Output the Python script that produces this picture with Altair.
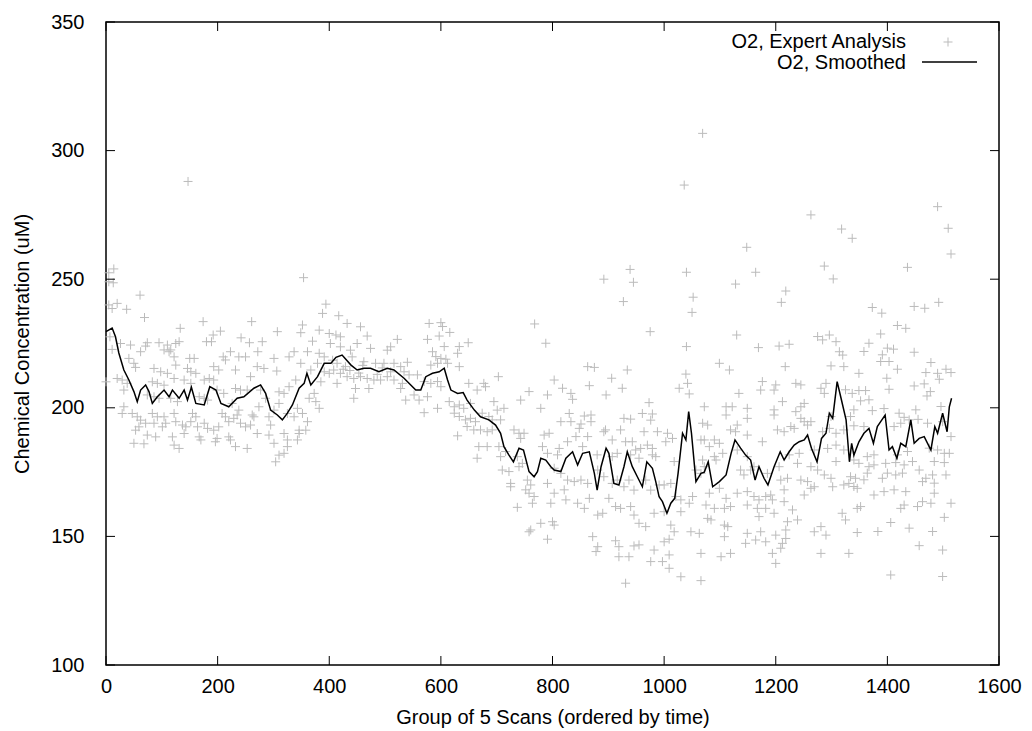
import altair as alt
import pandas as pd

FONT = "Liberation Sans"
GRAY = "#bbbbbb"
CROSS = "M-1,0L1,0M0,-1L0,1"

x_ticks = [0, 200, 400, 600, 800, 1000, 1200, 1400, 1600]
y_ticks = [100, 150, 200, 250, 300, 350]

x_title = "Group of 5 Scans (ordered by time)"
y_title = "Chemical Concentration (uM)"
legend_labels = ["O2, Expert Analysis", "O2, Smoothed"]

# O2, Smoothed (group, concentration)
smoothed = [(0,229.6),(11,231),(17,227.6),(23,221.3),(32,214.7),(41,210.8),(50,206.3),(56,202.4),(62,206.9),(71,208.9),(77,206.3),(83,201.7),(92,204.3),(104,206.9),(113,204.3),(119,206.9),(131,203.7),(140,206.9),(146,203),(153,208),(161,201.7),(176,201.1),(186,208.2),(197,206.9),(206,201.7),(220,200.4),(235,203.7),(247,204.3),(265,207.6),(277,208.9),(286,205.6),(295,199.1),(307,197.2),(316,195.3),(325,197.9),(334,201.1),(346,207.6),(355,209.5),(360,213.4),(367,208.9),(379,212.1),(391,217.3),(403,217.3),(412,219.6),(423,220.5),(439,216.6),(450,214.7),(462,215.4),(474,215.4),(489,214),(504,215.4),(516,214.7),(534,211.5),(546,208.9),(555,206.9),(564,206.9),(573,212.1),(585,213.4),(597,214),(606,215.4),(612,210.8),(618,206.9),(630,205.6),(640,205.9),(647,203),(660,199.1),(671,196.5),(686,195.3),(698,193.3),(707,190.1),(713,184.9),(722,181.6),(730,179),(740,184.3),(748,183.6),(758,175.2),(767,173.2),(773,175.2),(779,180.4),(788,179.7),(797,177.1),(803,175.8),(815,175.2),(824,180.4),(836,182.9),(845,177.8),(854,182.3),(866,182.9),(875,174.5),(880,168),(887,177.1),(896,184.3),(901,182.3),(910,170.6),(919,170),(928,177.1),(934,182.9),(943,177.1),(952,173.2),(961,169.3),(969,179),(979,176.5),(985,171.3),(991,165.4),(997,163.5),(1005,159),(1012,162.9),(1019,164.8),(1025,174.5),(1033,190.1),(1039,187.5),(1044,198.5),(1049,190.1),(1057,171.3),(1066,174.5),(1072,175),(1079,179),(1087,169.3),(1099,171.3),(1111,173.9),(1120,182.3),(1127,187.5),(1137,184.3),(1146,181.6),(1155,179.7),(1163,171.9),(1170,177.1),(1179,172.6),(1186,170),(1197,177.1),(1208,182.9),(1215,179.7),(1224,182.9),(1233,185.5),(1242,186.8),(1251,187.5),(1257,189.4),(1264,184.3),(1274,179),(1282,188.1),(1290,190.1),(1296,197.9),(1302,195.9),(1310,210.2),(1317,203.7),(1326,195.3),(1332,179),(1336,186.2),(1340,181.6),(1349,186.8),(1358,190.1),(1367,192),(1375,186.2),(1382,192.7),(1388,194.6),(1396,197.2),(1403,183.6),(1409,184.9),(1417,180.4),(1424,186.2),(1433,184.9),(1442,195.3),(1448,186.2),(1457,188.1),(1466,188.8),(1478,183.6),(1485,192.7),(1490,190.1),(1499,197.9),(1507,190.7),(1511,200.4),(1515,203.7)]

# O2, Expert Analysis points, read section by section
expert_0_265 = [(147,288),(14,254),(5,252.5),(5,249),(13,248.6),(61,243.8),(5,240),(20,240.6),(11,238.6),(37,238.3),(69,235.1),(174,233.5),(261,233.5),(133,230.9),(205,229.8),(192,228.3),(189,225.7),(180,225.7),(242,227.2),(257,225.3),(7,227.6),(44,224.4),(26,225),(11,222.7),(74,225.3),(71,224),(62,221.8),(95,225.3),(110,224.4),(116,222.5),(125,225),(131,225.7),(104,222.5),(113,221.8),(122,219.8),(125,216.6),(150,219.2),(158,219.2),(223,221.8),(238,219.8),(250,219.8),(210,219.8),(214,218.6),(41,219.2),(50,217.3),(53,215.7),(193,216),(202,214.7),(232,214.7),(259,212.1),(86,215.3),(98,214),(110,213.4),(122,211.4),(146,215.3),(152,214),(161,213.4),(20,211.4),(29,210.8),(38,209.5),(176,210.8),(185,211.4),(193,210.8),(83,210.1),(92,209.5),(104,208.8),(140,210.8),(152,209.5),(0,210.1),(232,207.5),(241,206.9),(253,206.9),(32,206.9),(199,206.9),(211,205.6),(74,205),(86,204.3),(95,203.7),(116,203.7),(128,202.4),(167,204.3),(176,203.7),(182,203),(32,200.4),(29,197.8),(47,197.8),(56,196.5),(62,195.2),(71,194),(59,192.6),(53,191.3),(83,197.8),(92,196.5),(86,194),(104,196.5),(107,194),(101,192.6),(122,197.8),(125,194.6),(137,193.3),(143,192.6),(155,197.8),(161,196.5),(152,194.6),(164,192.6),(176,194),(182,192),(193,191.3),(202,192.6),(208,197.8),(214,196.5),(220,194.6),(229,195.9),(235,197.2),(241,194),(250,192.6),(259,193.3),(262,197.2),(74,189.4),(89,188.7),(119,188.7),(140,190),(167,188.7),(199,188.1),(220,188.7),(50,186.2),(68,186),(122,185.5),(131,184.2),(170,187.5),(196,186.8),(223,187.5),(232,184.9),(253,184.2),(226,201.7),(238,199.1)]

expert_265_534 = [(354,250.6),(394,240.3),(388,236.7),(417,235.8),(352,232.2),(349,229.2),(307,229.6),(432,232.8),(456,231.5),(382,230.2),(400,228.9),(412,228.3),(420,227.6),(468,227.9),(522,226.6),(280,225.7),(272,221.8),(370,225.9),(361,221.8),(337,221.8),(328,219.8),(402,225),(420,223.7),(438,222.4),(450,225),(474,223.1),(504,222.4),(510,223.7),(301,219.2),(382,221.2),(391,219.8),(349,217.3),(367,214.7),(379,217.3),(406,218.5),(414,217.3),(429,216),(441,219.8),(462,217.9),(483,217.3),(498,217.3),(516,217.3),(528,216),(271,216),(283,215.3),(306,214.3),(391,214),(400,213.4),(408,214.7),(420,213.4),(432,212.1),(444,211.4),(456,212.1),(468,211.4),(480,210.8),(492,210.8),(504,212.1),(516,210.8),(531,209.5),(340,210.8),(328,208.2),(319,205.6),(310,206.2),(385,210.1),(414,209.5),(447,207.5),(471,207.5),(528,207.5),(373,205.6),(364,203.7),(376,202.4),(277,206.9),(286,203.7),(274,200.4),(444,203.7),(382,199.8),(310,201.7),(301,199.1),(292,196.5),(295,193.3),(343,199.8),(352,197.8),(337,196.5),(325,197.8),(361,194.6),(358,191.3),(346,191.3),(265,196.5),(271,190),(292,189.4),(301,186.2),(319,190),(325,187.5),(346,190),(343,187.5),(310,181.6),(319,182.3),(325,184.9),(304,179),(425,215),(437,214.5),(453,213.5),(486,213),(510,214),(460,216.5),(495,215.5)]

expert_534_803 = [(579,232.8),(600,233.1),(603,231.6),(616,229.3),(597,227.9),(576,226.6),(768,232.6),(788,225.1),(606,223.8),(633,223.8),(630,221.2),(649,225.3),(585,221.8),(591,219.9),(600,219.2),(609,218.9),(540,217.7),(582,216.6),(594,217.3),(612,217.3),(633,216),(703,212.1),(534,214),(543,212.8),(558,212.8),(570,210.2),(582,209.5),(594,210.2),(600,208.2),(650,209.5),(677,209.5),(665,206.9),(680,208.2),(537,203),(552,205),(561,203),(576,204.3),(594,199.8),(570,198.1),(758,206.3),(743,203),(791,205),(779,199.8),(615,202.4),(624,200.4),(633,201.1),(641,199.8),(653,201.7),(695,202.4),(713,199.8),(701,199.1),(624,197.9),(633,196.6),(644,195.3),(653,195.9),(662,194.6),(674,197.9),(686,196.6),(692,195.3),(707,195.3),(647,192.7),(659,191.4),(671,191.4),(683,190.7),(692,191.4),(630,189.1),(731,191.4),(740,190.1),(749,190.1),(743,188.1),(785,189.4),(794,190.1),(782,184.9),(791,182.3),(668,184.9),(683,184.9),(704,184.9),(716,183),(707,181),(665,180.4),(737,181),(746,178.4),(740,177.1),(710,175.8),(722,175.2),(725,170.6),(725,169.3),(755,171.9),(761,170),(752,168.1),(767,165.5),(758,166.8),(791,170.6),(797,162.9),(764,162.9),(737,161.3),(761,152.5),(758,151.8),(779,155.1),(791,148.9),(800,155.7)]

expert_803_1072 = [(1069,306.7),(1036,286.6),(939,253.8),(892,250),(945,248.8),(927,241.3),(1040,252.7),(1052,243),(1050,237.1),(975,229.6),(1040,223.8),(863,216),(875,215.7),(934,214.7),(1039,213.1),(1042,209.5),(803,210.8),(818,207.6),(833,205.6),(836,203.3),(866,208.6),(906,211.5),(925,207.6),(896,205),(1027,207.6),(1045,205.4),(973,202),(830,197.8),(815,194.6),(833,194.6),(857,196.8),(869,197.2),(851,193.7),(869,194.6),(928,195.9),(940,195.6),(961,197.8),(976,195.2),(979,197.6),(848,192),(842,188.8),(863,188.8),(895,191.4),(922,191.4),(892,190.7),(988,190.7),(1006,190.1),(1015,188.1),(1003,186.8),(964,190.7),(1069,194),(827,186.8),(812,184.2),(854,184.9),(907,187.5),(931,186.8),(943,186.8),(949,183.6),(958,184.2),(970,185.5),(979,184.2),(985,181),(1066,187.5),(809,181.7),(880,181.7),(907,181),(916,182.3),(940,181.7),(955,180.4),(979,181.7),(1018,179.1),(1069,179.7),(803,176.5),(815,174.5),(827,171.9),(839,171.3),(851,171.9),(863,170.6),(881,175.8),(892,173.2),(907,170.6),(916,171.9),(928,169.3),(937,171.9),(946,168),(967,171.9),(976,168),(991,170),(1000,170),(1012,170.6),(1021,165.5),(1030,164.2),(1045,162.9),(1051,165.5),(1057,175.8),(1066,174.5),(803,166.8),(821,168.1),(824,164.2),(845,162.9),(857,160.9),(866,164.8),(881,158.3),(890,159),(901,164.8),(913,161.6),(922,160.9),(946,158.3),(955,155.1),(967,153.8),(940,161.6),(982,159),(1000,159.6),(1012,154.4),(1018,151.8),(1030,159.6),(803,154.4),(872,149.9),(881,146),(878,144.1),(913,148.3),(919,146),(946,146.3),(955,146.7),(982,144.7),(1000,147.9),(1009,148.9),(1048,151.8),(1063,151.2),(1066,143.4),(919,142.1),(937,142.1),(976,140.2),(997,140.2),(1009,142.8),(1009,137.6),(931,131.8),(1030,134.3),(1066,132.8)]

expert_1072_1340 = [(1263,275),(1318,269.5),(1337,265.9),(1148,262.4),(1287,255.1),(1303,250.1),(1164,252.7),(1128,248.1),(1218,245.4),(1210,241),(1130,228.3),(1169,223.4),(1206,224),(1224,224.7),(1275,227.7),(1284,226.4),(1296,228.3),(1308,225.7),(1314,221.8),(1320,220.5),(1299,216.3),(1322,216),(1099,217.3),(1117,214.7),(1217,216),(1176,210.2),(1200,208.9),(1173,206.9),(1197,206.9),(1212,202.4),(1236,209.5),(1245,208.9),(1134,205.6),(1281,207.6),(1290,209.5),(1287,205.6),(1325,207),(1337,205.6),(1072,200.4),(1111,200.4),(1122,200.4),(1149,199.8),(1197,199.2),(1236,198.5),(1245,200.4),(1251,201.7),(1111,197.2),(1149,195.9),(1197,197.2),(1245,195.9),(1251,194.6),(1263,194.6),(1299,196.6),(1334,196.6),(1078,193.3),(1131,193.3),(1119,191.4),(1128,190.7),(1227,192.7),(1233,192),(1257,193.3),(1284,190.7),(1296,192),(1308,190.1),(1322,191.4),(1072,187.5),(1090,187.5),(1099,186.2),(1149,189.4),(1176,186.8),(1203,191.4),(1215,190.7),(1081,184.9),(1105,182.3),(1090,181),(1131,183.6),(1149,181),(1161,177.1),(1224,181.7),(1242,182.3),(1269,183.6),(1293,184.2),(1308,185.5),(1322,183.6),(1308,179.1),(1072,177.1),(1093,179.7),(1137,175.8),(1143,173.9),(1155,175.8),(1185,174.5),(1206,177.1),(1239,178.4),(1263,177.1),(1275,175.8),(1209,171.9),(1221,172.6),(1245,171.9),(1257,171.3),(1287,173.9),(1299,172.6),(1302,169.3),(1322,170),(1334,173.2),(1331,170.6),(1081,166.8),(1099,168.7),(1111,164.8),(1131,166.8),(1149,167.4),(1161,165.5),(1170,164.2),(1182,165.5),(1191,166.1),(1194,164.2),(1215,168.1),(1251,166.1),(1263,168.7),(1269,169.3),(1075,162.2),(1090,160.9),(1108,160.9),(1119,161.6),(1149,162.2),(1167,160.9),(1182,160.9),(1197,159),(1215,163.5),(1230,160.3),(1319,159),(1325,156.4),(1078,157),(1084,156.4),(1108,154.4),(1114,153.8),(1170,157.7),(1221,155.7),(1239,156.4),(1218,152.5),(1108,149.9),(1149,151.2),(1146,147.3),(1164,148.6),(1182,147.9),(1173,151.8),(1200,150.5),(1212,147.3),(1218,149.2),(1269,151.8),(1281,153.8),(1290,150.5),(1102,142.1),(1119,143.4),(1194,143.4),(1200,139.5),(1209,145.4),(1281,143.4),(1331,143.4)]

expert_1340_1515 = [(1490,278.2),(1509,269.8),(1514,259.8),(1436,254.6),(1373,239),(1390,236.8),(1448,239.4),(1467,238.7),(1492,241),(1418,232),(1433,230.9),(1388,228.7),(1367,225.1),(1358,221.9),(1400,223.2),(1411,222.8),(1391,220.6),(1448,221.6),(1388,218),(1403,218),(1418,215),(1478,217.6),(1505,215),(1514,213.7),(1469,213.7),(1490,213.4),(1493,211.1),(1349,213.4),(1349,206.7),(1361,206.7),(1399,211.5),(1403,207.2),(1448,208.5),(1466,209.3),(1477,206.3),(1471,204.6),(1352,202.7),(1367,203.1),(1340,199.2),(1373,198.9),(1394,199.7),(1421,197.9),(1430,196.3),(1451,199.2),(1455,195.5),(1439,195.3),(1424,194),(1496,200.5),(1340,193),(1358,192.7),(1412,192.7),(1472,194),(1499,194.6),(1514,188.8),(1502,182.3),(1511,182.3),(1490,183.6),(1475,184.3),(1436,183),(1418,181.7),(1376,181.7),(1364,181),(1340,179.7),(1502,178.7),(1484,179.1),(1445,179.1),(1430,177.8),(1415,178.7),(1397,178.4),(1376,177.8),(1367,177.1),(1349,178.4),(1505,173.9),(1481,173.9),(1469,172.6),(1457,175.8),(1427,174.6),(1415,173.9),(1400,174.6),(1391,172.6),(1364,174.6),(1358,172),(1343,172.6),(1340,169.4),(1484,170.7),(1463,171.3),(1433,167.4),(1412,168.1),(1394,167.4),(1376,166.1),(1346,168.7),(1484,166.8),(1514,162.9),(1478,162.9),(1463,163.5),(1454,161.6),(1430,162.2),(1424,160.9),(1352,161.6),(1346,160.9),(1502,157.4),(1481,151.9),(1439,153.2),(1406,155.4),(1383,151.9),(1346,151.5),(1457,146.4),(1499,144.7),(1406,135),(1499,134.4)]

expert = (expert_0_265 + expert_265_534 + expert_534_803 + expert_803_1072
          + expert_1072_1340 + expert_1340_1515)

W, H = 893, 643
TICK = 9

xs = alt.Scale(domain=[0, 1600], nice=False, zero=False)
ys = alt.Scale(domain=[100, 350], nice=False, zero=False)

df_expert = pd.DataFrame(expert, columns=["group", "conc"])
df_smooth = pd.DataFrame(smoothed, columns=["group", "conc"])

x_axis = alt.Axis(values=x_ticks, format="d", title=x_title, ticks=False, domain=False, grid=False,
                  labelFont=FONT, labelFontSize=20, labelColor="black", labelPadding=11,
                  labelFlush=False, titleFont=FONT, titleFontSize=20, titleFontWeight="normal",
                  titleColor="black", titleY=52, titleBaseline="middle")
y_axis = alt.Axis(values=y_ticks, format="d", title=y_title, ticks=False, domain=False, grid=False,
                  labelFont=FONT, labelFontSize=20, labelColor="black", labelPadding=22,
                  labelFlush=False, titleFont=FONT, titleFontSize=20, titleFontWeight="normal",
                  titleColor="black", titleX=-84, titleY=H / 2, titleBaseline="middle")

points = alt.Chart(df_expert).mark_point(
    shape=CROSS, filled=False, size=81, strokeWidth=1, color=GRAY, opacity=1
).encode(
    x=alt.X("group:Q", scale=xs, axis=x_axis),
    y=alt.Y("conc:Q", scale=ys, axis=y_axis),
)

line = alt.Chart(df_smooth).mark_line(color="black", strokeWidth=1.5).encode(
    x=alt.X("group:Q", scale=xs, axis=x_axis),
    y=alt.Y("conc:Q", scale=ys, axis=y_axis),
)

df_xt = pd.DataFrame({"group": x_ticks})
df_yt = pd.DataFrame({"conc": y_ticks})
tick_x = alt.X("group:Q", scale=xs, axis=x_axis)
tick_y = alt.Y("conc:Q", scale=ys, axis=y_axis)

bottom_ticks = alt.Chart(df_xt).mark_rule(color="black", strokeWidth=1).encode(
    x=tick_x, y=alt.value(H), y2=alt.value(H - TICK))
top_ticks = alt.Chart(df_xt).mark_rule(color="black", strokeWidth=1).encode(
    x=tick_x, y=alt.value(0), y2=alt.value(TICK))
left_ticks = alt.Chart(df_yt).mark_rule(color="black", strokeWidth=1).encode(
    y=tick_y, x=alt.value(0), x2=alt.value(TICK))
right_ticks = alt.Chart(df_yt).mark_rule(color="black", strokeWidth=1).encode(
    y=tick_y, x=alt.value(W), x2=alt.value(W - TICK))

leg1 = alt.Chart(pd.DataFrame({"label": [legend_labels[0]]})).mark_text(
    align="right", baseline="middle", font=FONT, fontSize=20, color="black"
).encode(text="label:N", x=alt.value(800), y=alt.value(20))
leg2 = alt.Chart(pd.DataFrame({"label": [legend_labels[1]]})).mark_text(
    align="right", baseline="middle", font=FONT, fontSize=20, color="black"
).encode(text="label:N", x=alt.value(800), y=alt.value(41))
leg_cross = alt.Chart(pd.DataFrame({"label": [legend_labels[0]]})).mark_point(
    shape=CROSS, filled=False, size=81, strokeWidth=1, color=GRAY, opacity=1
).encode(x=alt.value(842), y=alt.value(20))
leg_line = alt.Chart(pd.DataFrame({"label": [legend_labels[1]]})).mark_rule(
    color="black", strokeWidth=1.5
).encode(x=alt.value(816), x2=alt.value(871), y=alt.value(40))

chart = alt.layer(
    points, line, bottom_ticks, top_ticks, left_ticks, right_ticks,
    leg1, leg2, leg_cross, leg_line
).properties(
    width=W, height=H,
    autosize=alt.AutoSizeParams(type="none"),
    padding={"left": 98, "top": 14, "right": 24, "bottom": 63},
    background="white",
).configure_view(stroke="black", strokeWidth=1.5)

chart.save("out.html", embed_options={"renderer": "svg", "actions": False})
